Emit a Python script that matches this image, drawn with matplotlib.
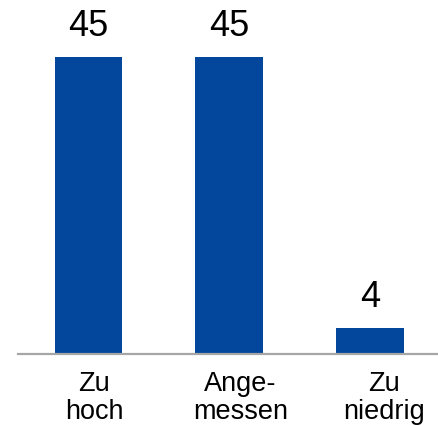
import matplotlib.pyplot as plt
import matplotlib.transforms as mtransforms

categories = ["Zu\nhoch", "Ange-\nmessen", "Zu\nniedrig"]
values = [45, 45, 4]

bar_color = "#03479C"
plt.rcParams['font.family'] = ['Liberation Sans', 'DejaVu Sans']

fig = plt.figure(figsize=(4.39, 4.26), dpi=100)
ax = fig.add_axes([18 / 439, 72 / 426, 1 - 18 / 439, 1 - 72 / 426])

x = list(range(len(values)))
ax.bar(x, values, width=0.48, color=bar_color, zorder=2)
for xi, v in zip(x, values):
    ax.annotate(str(v), (xi, v), xytext=(0, 9), textcoords="offset points",
                ha="center", va="bottom", fontsize=26)

ax.set_xlim(-0.5, 2.49)
ax.set_ylim(0, 45 * 354 / 297)
ax.set_xticks(x)
ax.set_xticklabels(categories, fontsize=19.5, linespacing=1.12)
ax.tick_params(axis="x", length=0, pad=12)
ax.set_yticks([])
for s in ["top", "right", "left"]:
    ax.spines[s].set_visible(False)
ax.spines["bottom"].set_color("#A6A6A6")
ax.spines["bottom"].set_linewidth(1.6)

# tick labels sit a little right of the bar centres
for lab, dx in zip(ax.get_xticklabels(), [6, 11, 14]):
    lab.set_transform(lab.get_transform() + mtransforms.ScaledTranslation(dx / 100, 0, fig.dpi_scale_trans))

fig.savefig("out.png", dpi=100)
